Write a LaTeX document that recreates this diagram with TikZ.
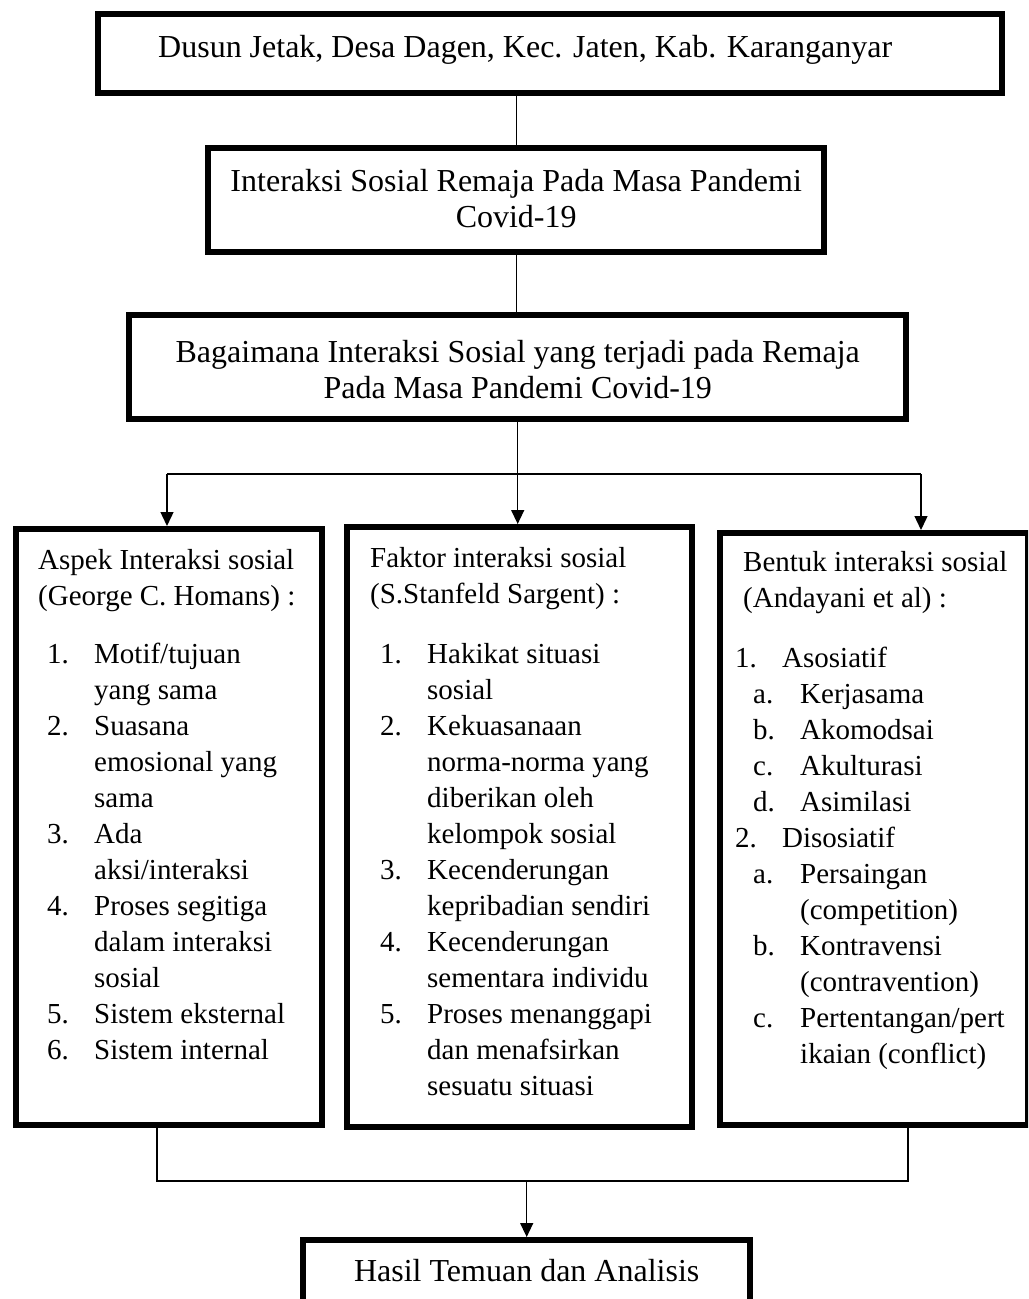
\documentclass[tikz,border=0pt]{standalone}
\usepackage{fontspec}
\setmainfont{Liberation Serif}
\usetikzlibrary{arrows.meta,calc}
\newcommand{\butir}[3]{\hspace*{#1}\makebox[23.5pt][l]{#2}#3}
\newcommand{\lanjut}[2]{\hspace*{#1}#2}

\begin{document}
\begin{tikzpicture}[x=0.5pt,y=-0.5pt,
  kotak/.style={draw,line width=3.2pt,inner sep=0pt,anchor=north west},
  kotakatas/.style={kotak,font=\fontsize{16}{18}\selectfont},
  kotakdaftar/.style={kotak,font=\fontsize{14.5}{18}\selectfont},
  garis/.style={line width=0.7pt},
  panah/.style={garis,-{Triangle[length=7pt,width=6.5pt]}}]
\useasboundingbox (0,0) rectangle (1028,1299);
\clip (0,0) rectangle (1028,1299);

\node[kotakatas] (jetak) at (95,11) {\parbox[t][39.5pt][t]{452pt}{\rule{0pt}{21.5pt}\hspace*{30pt}Dusun Jetak, Desa Dagen, Kec. Jaten, Kab. Karanganyar}};
\node[kotakatas] (interaksi) at (205,145) {\parbox[t][52pt][t]{308pt}{\centering\rule{0pt}{21.5pt}Interaksi Sosial Remaja Pada Masa Pandemi\\Covid-19}};
\node[kotakatas] (pertanyaan) at (126,312) {\parbox[t][52pt][t]{388.5pt}{\centering\rule{0pt}{23.5pt}Bagaimana Interaksi Sosial yang terjadi pada Remaja\\Pada Masa Pandemi Covid-19}};

\node[kotakdaftar] (aspek) at (13,526) {\parbox[t][298pt][t]{153pt}{\rule{0pt}{20pt}\hspace*{11pt}Aspek Interaksi sosial\\
  \lanjut{11pt}{(George C. Homans) :}\\[11pt]
  \butir{15.5pt}{1.}{Motif/tujuan}\\ \lanjut{39pt}{yang sama}\\
  \butir{15.5pt}{2.}{Suasana}\\ \lanjut{39pt}{emosional yang}\\ \lanjut{39pt}{sama}\\
  \butir{15.5pt}{3.}{Ada}\\ \lanjut{39pt}{aksi/interaksi}\\
  \butir{15.5pt}{4.}{Proses segitiga}\\ \lanjut{39pt}{dalam interaksi}\\ \lanjut{39pt}{sosial}\\
  \butir{15.5pt}{5.}{Sistem eksternal}\\
  \butir{15.5pt}{6.}{Sistem internal}}};

\node[kotakdaftar] (faktor) at (344,524) {\parbox[t][300pt][t]{172.5pt}{\rule{0pt}{20pt}\hspace*{11.5pt}Faktor interaksi sosial\\
  \lanjut{11.5pt}{(S.Stanfeld Sargent) :}\\[12pt]
  \butir{16.5pt}{1.}{Hakikat situasi}\\ \lanjut{40pt}{sosial}\\
  \butir{16.5pt}{2.}{Kekuasanaan}\\ \lanjut{40pt}{norma-norma yang}\\ \lanjut{40pt}{diberikan oleh}\\ \lanjut{40pt}{kelompok sosial}\\
  \butir{16.5pt}{3.}{Kecenderungan}\\ \lanjut{40pt}{kepribadian sendiri}\\
  \butir{16.5pt}{4.}{Kecenderungan}\\ \lanjut{40pt}{sementara individu}\\
  \butir{16.5pt}{5.}{Proses menanggapi}\\ \lanjut{40pt}{dan menafsirkan}\\ \lanjut{40pt}{sesuatu situasi}}};

\node[kotakdaftar] (bentuk) at (717,530) {\parbox[t][296pt][t]{154pt}{\rule{0pt}{19pt}\hspace*{11.5pt}Bentuk interaksi sosial\\
  \lanjut{11.5pt}{(Andayani et al) :}\\[12pt]
  \butir{7.5pt}{1.}{Asosiatif}\\
  \butir{16.5pt}{a.}{Kerjasama}\\ \butir{16.5pt}{b.}{Akomodsai}\\
  \butir{16.5pt}{c.}{Akulturasi}\\ \butir{16.5pt}{d.}{Asimilasi}\\
  \butir{7.5pt}{2.}{Disosiatif}\\
  \butir{16.5pt}{a.}{Persaingan}\\ \lanjut{40pt}{(competition)}\\
  \butir{16.5pt}{b.}{Kontravensi}\\ \lanjut{40pt}{(contravention)}\\
  \butir{16.5pt}{c.}{Pertentangan/pert}\\ \lanjut{40pt}{ikaian (conflict)}}};

\node[kotakatas] (hasil) at (300,1237) {\parbox[t][60pt][t]{223.5pt}{\centering\rule{0pt}{20.5pt}Hasil Temuan dan Analisis}};

\coordinate (cabangkiri) at (167,474);
\coordinate (cabangkanan) at (921,474);
\coordinate (gabungkiri) at (157,1181);
\coordinate (gabungkanan) at (908,1181);

\draw[garis] (jetak.south -| interaksi.north) -- (interaksi.north);
\draw[garis] (interaksi.south) -- (interaksi.south |- pertanyaan.north);
\draw[garis] (pertanyaan.south) -- (pertanyaan.south |- cabangkiri);
\draw[garis] (cabangkiri) -- (cabangkanan);
\draw[panah] (cabangkiri) -- (aspek.north -| cabangkiri);
\draw[panah] (pertanyaan.south |- cabangkiri) -- (faktor.north -| pertanyaan.south);
\draw[panah] (cabangkanan) -- (bentuk.north -| cabangkanan);

\draw[garis] (aspek.south -| gabungkiri) -- (gabungkiri) -- (gabungkanan) -- (bentuk.south -| gabungkanan);
\draw[panah] (hasil.north |- gabungkiri) -- (hasil.north);
\end{tikzpicture}
\end{document}
